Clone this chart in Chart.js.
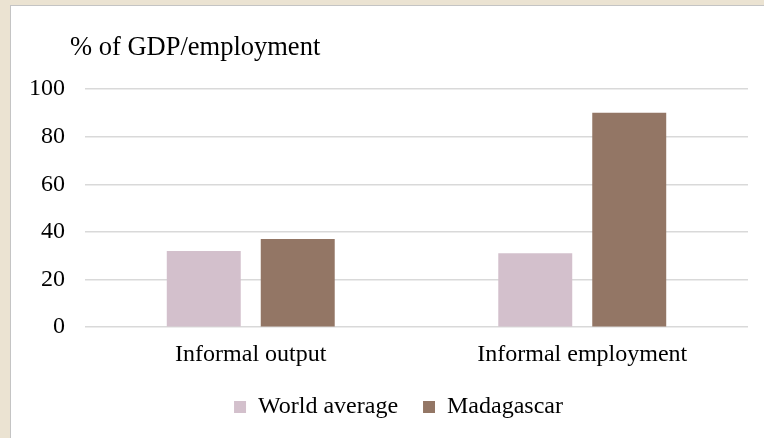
<!DOCTYPE html>
<html>
<head>
<meta charset="utf-8">
<script src="https://cdn.jsdelivr.net/npm/chart.js@4"></script>
<style>
    html, body { margin: 0; padding: 0; overflow: hidden; }
    body { width: 764px; height: 438px; background: #ebe3d2; position: relative; }
    #panel {
        position: absolute; left: 10px; top: 5px; width: 800px; height: 480px;
        background: #ffffff; border-left: 1px solid #c4c4c4; border-top: 1px solid #c4c4c4;
    }
    #wrap { position: absolute; left: 9px; top: 0; width: 804px; height: 438px; }
</style>
</head>
<body>
<div id="panel"></div>
<div id="wrap"><canvas id="chart"></canvas></div>
<script>
// data
const categories = ['Informal output', 'Informal employment'];
const worldAverage = [32, 31];
const madagascar = [37, 90];
const yTicks = [0, 20, 40, 60, 80, 100];
const axisTitle = '% of GDP/employment';

const FONT = "'Liberation Serif', 'Times New Roman', serif";

// titulo em cima, alinhado a esquerda das etiquetas do eixo
const topLabel = {
    id: 'topLabel',
    afterDraw(chart) {
        const c = chart.ctx;
        c.save();
        c.font = '26.5px ' + FONT;
        c.fillStyle = '#000';
        c.textBaseline = 'alphabetic';
        c.textAlign = 'left';
        c.fillText(axisTitle, chart.chartArea.left - 15, 55);
        c.restore();
    }
};

// a legenda do original fica centrada sob toda a moldura, um pouco a direita
const shiftLegend = {
    id: 'shiftLegend',
    afterLayout(chart) {
        const lg = chart.legend;
        if (!lg) return;
        lg.left += 20;
        lg.right += 20;
    }
};

Chart.defaults.font.family = FONT;
Chart.defaults.font.size = 24;
Chart.defaults.color = '#000';

new Chart(document.getElementById('chart'), {
    type: 'bar',
    data: {
        labels: categories,
        datasets: [
            {
                label: 'World average',
                data: worldAverage,
                backgroundColor: '#d3c0cc',
                categoryPercentage: 0.567,
                barPercentage: 0.787
            },
            {
                label: 'Madagascar',
                data: madagascar,
                backgroundColor: '#937665',
                categoryPercentage: 0.567,
                barPercentage: 0.787
            }
        ]
    },
    options: {
        responsive: true,
        maintainAspectRatio: false,
        animation: false,
        layout: { padding: { top: 89, left: 0, right: 65, bottom: 9 } },
        scales: {
            x: {
                grid: { display: false },
                border: { display: false },
                afterFit: (axis) => { axis.height = 42.8; },
                ticks: { padding: 5 }
            },
            y: {
                min: 0,
                max: 100,
                afterBuildTicks: (axis) => { axis.ticks = yTicks.map(v => ({ value: v })); },
                grid: { color: '#d9d9d9', lineWidth: 1.5, drawTicks: false },
                border: { display: false },
                ticks: { padding: 20 }
            }
        },
        plugins: {
            legend: {
                position: 'bottom',
                labels: { boxWidth: 12, boxHeight: 12, padding: 25 }
            },
            tooltip: { enabled: false }
        }
    },
    plugins: [topLabel, shiftLegend]
});
</script>
</body>
</html>
